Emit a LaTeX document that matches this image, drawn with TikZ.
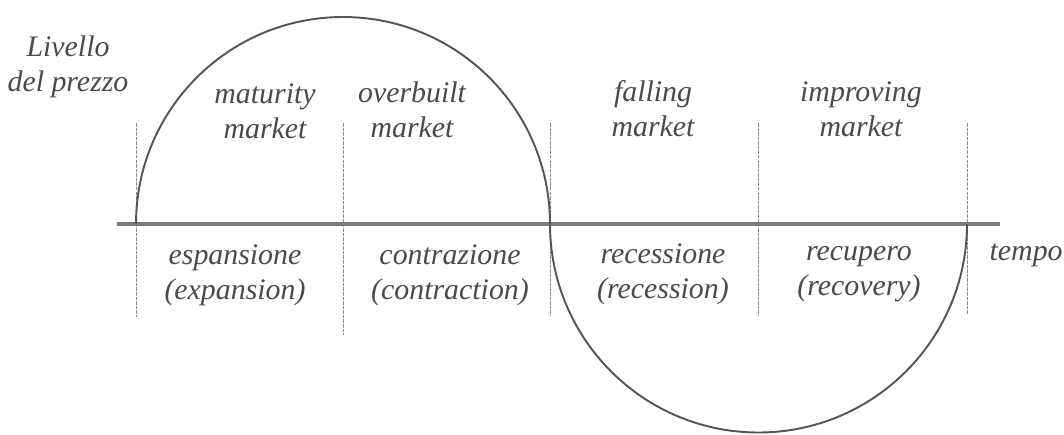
\documentclass[tikz,border=0pt]{standalone}
\usepackage{fontspec}
\setmainfont{Liberation Serif}
\usepackage{tikz}
\usetikzlibrary{positioning}
\definecolor{txtgray}{HTML}{4A4A4A}
\definecolor{curvegray}{HTML}{555555}
\definecolor{axisgray}{HTML}{7A7A7A}
\definecolor{linegray}{HTML}{8A8A8A}
\begin{document}
\begin{tikzpicture}[x=0.02cm, y=-0.02cm,
    lbl/.style={font=\fontsize{17}{20}\selectfont\itshape, text=txtgray,
                align=center, inner sep=0pt,
                execute at begin node=\strut, execute at end node=\strut},
    divider/.style={draw=linegray, line width=0.5pt, dash pattern=on 2pt off 0.6pt},
    axis/.style={draw=axisgray, line width=2.3pt},
    wave/.style={draw=curvegray, line width=1.1pt}
  ]
  \useasboundingbox (0,0) rectangle (1064,434);

  % Phase boundaries
  \foreach \xb/\yb/\nm in {136/317/b0, 343/335/b1, 550/315/b2, 758/315/b3, 967/314/b4} {
    \coordinate (\nm top) at (\xb,123);
    \coordinate (\nm bot) at (\xb,\yb);
    \draw[divider] (\nm top) -- (\nm bot);
  }

  % Time axis
  \coordinate (axl) at (117,224);
  \coordinate (axr) at (1000,224);
  \draw[axis] (axl) -- (axr);

  % Cycle
  \coordinate (c0) at (136,224);
  \coordinate (c2) at (550,224);
  \draw[wave] (c0) arc[start angle=180, end angle=360, radius=207];
  \draw[wave] (c2) arc[start angle=180, end angle=0, radius=208.5];

  % Labels
  \node[lbl] (price) at (68,69) {Livello\\del prezzo};
  \node[lbl, anchor=east] (time) at (1063,253) {tempo};

  \node[lbl] (mat) at (265,116) {maturity\\market};
  \node[lbl] (ovb) at (412,115) {overbuilt\\market};
  \node[lbl] (fal) at (653,114) {falling\\market};
  \node[lbl] (imp) at (861,114) {improving\\market};

  \node[lbl] (esp) at (235,277) {espansione\\(expansion)};
  \node[lbl] (con) at (450,277) {contrazione\\(contraction)};
  \node[lbl] (rec) at (663,276) {recessione\\(recession)};
  \node[lbl] (rcp) at (859,276) {recupero\\(recovery)};
\end{tikzpicture}
\end{document}
